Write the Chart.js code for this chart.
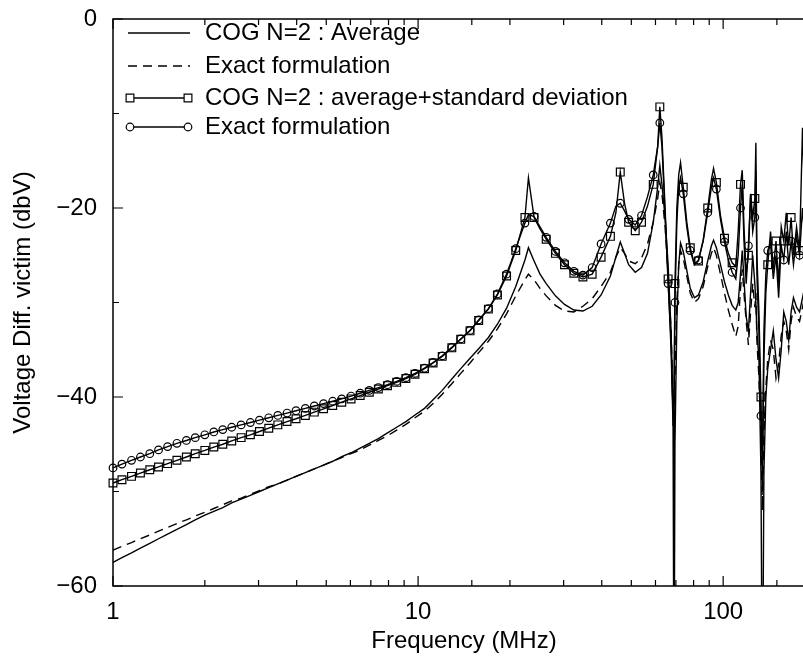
<!DOCTYPE html>
<html>
<head>
<meta charset="utf-8">
<title>Voltage Diff. victim</title>
<script src="https://cdn.jsdelivr.net/npm/chart.js@4.4.1/dist/chart.umd.min.js"></script>
<style>
  html, body { margin: 0; padding: 0; background: #fff; overflow: hidden; }
  #wrap { width: 803px; height: 658px; overflow: hidden; position: relative; }
  #victim { display: block; }
</style>
</head>
<body>
<div id="wrap"><canvas id="victim" width="830" height="658"></canvas></div>
<script>
// Frequency points (MHz), shared by all four curves
const freq = [
  1, 1.07, 1.15, 1.23, 1.32, 1.41, 1.51, 1.62, 1.74, 1.86,
  2.0, 2.14, 2.29, 2.45, 2.63, 2.82, 3.02, 3.24, 3.47, 3.72,
  3.98, 4.27, 4.57, 4.9, 5.25, 5.62, 6.03, 6.46, 6.92, 7.41,
  7.94, 8.51, 9.12, 9.77, 10.5, 11.2, 12.0, 12.9, 13.8, 14.8,
  15.8, 17.0, 18.2, 19.5, 20.9, 22.4, 23.0, 24.0, 25.1, 26.3,
  28.2, 30.2, 32.4, 34.7, 37.2, 39.8, 42.7, 44.5, 46, 47.5,
  49, 51.5, 54, 56.5, 59, 61, 62, 63, 64.5, 66,
  67.5, 68.5, 69, 69.5, 70.5, 71.5, 72.5, 74, 76, 78,
  80.5, 83, 86, 89, 91.5, 93, 95, 98, 101, 104,
  107, 110, 112, 114, 115.5, 117, 119, 121, 123, 125,
  127, 128, 129, 131, 133, 134.5, 136, 138, 140, 143,
  146, 149, 152, 155, 158, 161, 164, 167, 170, 174,
  178, 182, 186, 192, 200
];

// COG N=2 : Average (dbV)
const cogAverage = [
  -57.5, -57.0, -56.5, -56.0, -55.5, -55.0, -54.5, -54.0, -53.5, -53.0,
  -52.5, -52.1, -51.7, -51.2, -50.8, -50.4, -50.0, -49.6, -49.2, -48.8,
  -48.4, -48.0, -47.6, -47.2, -46.8, -46.3, -45.9, -45.4, -44.9, -44.4,
  -43.8, -43.2, -42.6, -41.9, -41.2, -40.3, -39.3, -38.1, -37.0, -35.9,
  -34.9, -33.7, -32.3, -30.6, -28.3, -25.5, -24.2, -25.6, -27.0, -28.0,
  -29.3, -30.2, -30.8, -30.9, -30.4, -29.2, -27.2, -25.2, -23.6, -24.8,
  -26.0, -26.8, -26.3, -24.8, -21.5, -17.8, -15.5, -17.5, -21.0, -26.0,
  -33.0, -42.0, -75, -45, -32, -26, -23.7, -24.6, -26.6, -28.5,
  -29.5, -29.2, -27.8, -25.6, -24.0, -23.4, -24.2, -26.0, -27.8, -29.2,
  -30.3, -30.8, -30.0, -27.0, -24.5, -27.5, -31.5, -33.0, -29.0, -25.0,
  -28.0, -30.0, -33.0, -36.0, -48.0, -75, -48.0, -40.0, -37.0, -35.0,
  -33.0, -36.0, -38.0, -35.0, -31.0, -32.0, -34.0, -31.0, -29.5, -30.5,
  -31.0, -29.5, -28.0, -27.0, -26.0
];

// Exact formulation, average (dbV)
const exactAverage = [
  -56.2, -55.8, -55.4, -55.0, -54.6, -54.2, -53.8, -53.4, -53.0, -52.6,
  -52.2, -51.8, -51.4, -51.0, -50.7, -50.3, -49.9, -49.5, -49.2, -48.8,
  -48.4, -48.0, -47.6, -47.2, -46.8, -46.4, -46.0, -45.6, -45.1, -44.6,
  -44.1, -43.5, -42.9, -42.2, -41.5, -40.7, -39.7, -38.6, -37.5, -36.4,
  -35.3, -34.1, -32.8, -31.2, -29.3, -27.6, -27.0, -27.6, -28.5, -29.3,
  -30.3, -30.9, -31.0, -30.4, -29.6, -28.3, -26.8, -25.2, -24.2, -24.8,
  -25.6, -25.9, -25.3, -23.8, -21.5, -19.0, -17.3, -18.5, -22.0, -27.0,
  -33.0, -40.0, -44.0, -38.0, -30.0, -26.0, -24.5, -25.3, -27.2, -29.0,
  -30.0, -29.6, -28.3, -26.2, -24.8, -24.2, -25.0, -27.0, -29.0, -30.8,
  -32.3, -33.6, -32.5, -28.5, -26.5, -29.0, -32.0, -34.5, -31.0, -28.0,
  -30.5, -29.0, -34.0, -38.0, -44.0, -52.0, -44.0, -39.0, -36.0, -34.0,
  -35.0, -38.0, -36.5, -33.5, -32.0, -33.0, -35.0, -32.0, -30.5, -31.5,
  -32.0, -30.5, -29.0, -28.0, -27.0
];

// COG N=2 : average + standard deviation (dbV)
const cogAvgStd = [
  -49.1, -48.75, -48.4, -48.05, -47.7, -47.4, -47.05, -46.7, -46.35, -46.0,
  -45.65, -45.3, -45.0, -44.65, -44.3, -44.0, -43.65, -43.3, -42.95, -42.6,
  -42.3, -41.95, -41.6, -41.25, -40.9, -40.55, -40.2, -39.85, -39.5, -39.15,
  -38.8, -38.45, -38.05, -37.6, -37.0, -36.4, -35.7, -34.8, -33.9, -33.0,
  -31.9, -30.7, -29.2, -27.2, -24.5, -21.0, -16.8, -21.0, -22.2, -23.3,
  -24.8, -26.0, -26.9, -27.3, -27.0, -25.2, -23.0, -20.5, -16.2, -19.5,
  -21.5, -22.4, -21.5, -19.8, -17.5, -13.5, -9.3, -12.5, -20.0, -27.5,
  -35.0, -43.0, -40.0, -28.0, -20.0, -16.5, -15.2, -17.8, -21.5, -24.2,
  -26.0, -25.6, -23.4, -20.0, -17.0, -15.8, -17.3, -20.8, -23.2, -24.8,
  -25.8, -26.2, -22.5, -17.5, -16.0, -22.0, -27.0, -25.0, -18.5, -21.0,
  -19.0, -13.1, -25.0, -31.0, -40.0, -50.0, -36.0, -29.0, -26.0, -22.5,
  -26.5, -23.5, -28.0, -22.0, -23.5, -20.5, -24.0, -21.0, -25.0, -22.0,
  -24.5, -11.5, -22.0, -20.0, -22.0
];

// Exact formulation, average + standard deviation (dbV)
const exactAvgStd = [
  -47.5, -47.1, -46.7, -46.35, -46.0, -45.6, -45.25, -44.9, -44.6, -44.3,
  -44.0, -43.7, -43.45, -43.2, -42.95, -42.7, -42.45, -42.2, -41.95, -41.7,
  -41.45, -41.2, -40.95, -40.7, -40.45, -40.2, -39.9, -39.6, -39.3, -39.0,
  -38.7, -38.35, -37.95, -37.5, -36.95, -36.35, -35.65, -34.75, -33.85, -32.95,
  -31.85, -30.65, -29.1, -27.0, -24.3, -21.6, -20.7, -20.9, -22.0, -23.1,
  -24.6, -25.8, -26.7, -27.1, -26.3, -23.8, -21.6, -19.8, -19.5, -20.3,
  -21.2, -21.8, -20.8, -18.8, -16.5, -13.5, -11.0, -13.5, -20.5, -28.0,
  -34.0, -41.5, -42.0, -30.0, -21.5, -17.8, -16.8, -18.5, -22.0, -24.5,
  -26.0, -25.5, -23.5, -20.5, -17.8, -16.8, -18.0, -21.2, -23.6, -25.5,
  -26.8, -27.5, -25.0, -20.0, -17.5, -23.5, -28.0, -24.0, -18.6, -22.5,
  -21.0, -16.0, -27.0, -33.0, -42.0, -46.0, -33.0, -27.0, -24.5, -23.7,
  -27.5, -25.0, -29.5, -24.0, -25.5, -22.5, -26.0, -23.5, -26.0, -23.0,
  -25.0, -20.0, -24.0, -22.0, -23.0
];

const seriesLabels = [
  'COG N=2 : Average',
  'Exact formulation',
  'COG N=2 : average+standard deviation',
  'Exact formulation'
];

// Axis tick labels
const xLabelValues = [1, 10, 100];
const yLabelValues = [0, -20, -40, -60];

const FONT = '"Liberation Sans", Arial, Helvetica, sans-serif';
Chart.defaults.font.family = FONT;
Chart.defaults.color = '#000';

// only put a marker where it is far enough from the previous one
const markIdx = new Set();
let lastMark = -1;
freq.forEach((f, i) => {
    if (lastMark < 0 || Math.log10(f / freq[lastMark]) >= 0.02) {
        markIdx.add(i);
        lastMark = i;
    }
});

function pts(values) {
    return freq.map((f, i) => ({ x: f, y: values[i] }));
}

const clipBox = { left: 10, top: 10, right: 10, bottom: 0 };

const datasets = [
    {
        label: seriesLabels[0],
        data: pts(cogAverage),
        borderColor: '#000',
        borderWidth: 1.4,
        pointRadius: 0,
        clip: clipBox
    },
    {
        label: seriesLabels[1],
        data: pts(exactAverage),
        borderColor: '#000',
        borderWidth: 1.4,
        borderDash: [9, 6],
        pointRadius: 0,
        clip: clipBox
    },
    {
        label: seriesLabels[2],
        data: pts(cogAvgStd),
        borderColor: '#000',
        borderWidth: 1.4,
        pointStyle: 'rect',
        pointRadius: ctx => markIdx.has(ctx.dataIndex) ? 5.5 : 0,
        pointBorderWidth: 1.2,
        pointBorderColor: '#000',
        pointBackgroundColor: 'rgba(255,255,255,0)',
        clip: clipBox
    },
    {
        label: seriesLabels[3],
        data: pts(exactAvgStd),
        borderColor: '#000',
        borderWidth: 1.4,
        pointStyle: 'circle',
        pointRadius: ctx => markIdx.has(ctx.dataIndex) ? 3.8 : 0,
        pointBorderWidth: 1.2,
        pointBorderColor: '#000',
        pointBackgroundColor: 'rgba(255,255,255,0)',
        clip: clipBox
    }
];

// frame, inward ticks and the in-plot legend
const framePlugin = {
    id: 'frameAndLegend',
    afterDatasetsDraw(chart) {
        const { ctx, chartArea: a, scales } = chart;
        const x = scales.x, y = scales.y;
        ctx.save();
        ctx.strokeStyle = '#000';
        ctx.lineWidth = 1.5;
        ctx.strokeRect(a.left, a.top, a.right - a.left, a.bottom - a.top);

        ctx.lineWidth = 1.2;
        ctx.beginPath();
        x.ticks.forEach(t => {
            const px = x.getPixelForValue(t.value);
            const len = xLabelValues.includes(t.value) ? 10 : 6;
            ctx.moveTo(px, a.bottom);
            ctx.lineTo(px, a.bottom - len);
            ctx.moveTo(px, a.top);
            ctx.lineTo(px, a.top + len);
        });
        y.ticks.forEach(t => {
            const py = y.getPixelForValue(t.value);
            const len = yLabelValues.includes(t.value) ? 10 : 6;
            ctx.moveTo(a.left, py);
            ctx.lineTo(a.left + len, py);
        });
        ctx.stroke();

        // legend
        const rows = [33, 66, 98, 127];
        const x0 = 130, x1 = 188, tx = 205;
        ctx.font = '24px ' + FONT;
        ctx.fillStyle = '#000';
        ctx.textBaseline = 'middle';
        ctx.textAlign = 'left';
        chart.data.datasets.forEach((ds, i) => {
            const ry = rows[i];
            ctx.save();
            ctx.lineWidth = 1.4;
            ctx.setLineDash(ds.borderDash || []);
            ctx.beginPath();
            ctx.moveTo(x0 - (ds.pointStyle ? 0 : 2), ry);
            ctx.lineTo(x1 + (ds.pointStyle ? 0 : 2), ry);
            ctx.stroke();
            ctx.restore();
            if (ds.pointStyle) {
                const r = ds.pointStyle === 'rect' ? 5.5 : 3.8;
                const opts = { pointStyle: ds.pointStyle, radius: r, borderWidth: 1.2, rotation: 0 };
                ctx.fillStyle = '#fff';
                Chart.helpers.drawPoint(ctx, opts, x0, ry);
                Chart.helpers.drawPoint(ctx, opts, x1, ry);
                ctx.fillStyle = '#000';
            }
            ctx.fillText(ds.label, tx, ry);
        });
        ctx.restore();
    }
};

new Chart(document.getElementById('victim'), {
    type: 'line',
    data: { datasets: datasets },
    options: {
        responsive: false,
        animation: false,
        events: [],
        elements: { line: { tension: 0 } },
        layout: { padding: { top: 19, right: 15, left: 0, bottom: 0 } },
        plugins: {
            legend: { display: false },
            tooltip: { enabled: false }
        },
        scales: {
            x: {
                type: 'logarithmic',
                min: 1,
                max: 200,
                afterFit(scale) {
                    scale.height = 72;
                    scale.paddingLeft = 0;
                    scale.paddingRight = 0;
                },
                grid: { drawOnChartArea: false, drawTicks: false },
                border: { display: false },
                ticks: {
                    autoSkip: false,
                    maxRotation: 0,
                    padding: 12,
                    font: { size: 24 },
                    callback: v => xLabelValues.includes(v) ? String(v) : ''
                },
                title: {
                    display: true,
                    text: 'Frequency (MHz)',
                    font: { size: 24 },
                    padding: { top: 0, bottom: 2 }
                }
            },
            y: {
                min: -60,
                max: 0,
                afterFit(scale) {
                    scale.width = 113;
                    scale.paddingTop = 0;
                    scale.paddingBottom = 0;
                },
                grid: { drawOnChartArea: false, drawTicks: false },
                border: { display: false },
                ticks: {
                    stepSize: 10,
                    padding: 16,
                    font: { size: 24 },
                    callback: v => yLabelValues.includes(v) ? (v < 0 ? '\u2212' + (-v) : String(v)) : ''
                },
                title: {
                    display: true,
                    text: 'Voltage Diff. victim (dbV)',
                    font: { size: 24 },
                    padding: { top: 9, bottom: 0 }
                }
            }
        }
    },
    plugins: [framePlugin]
});
</script>
</body>
</html>
